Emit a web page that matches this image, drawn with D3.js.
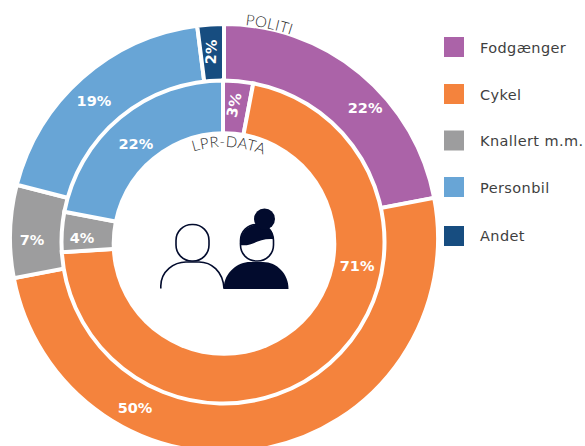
<!DOCTYPE html>
<html>
<head>
<meta charset="utf-8">
<script src="https://cdn.jsdelivr.net/npm/d3@7"></script>
<style>
  html, body { margin: 0; padding: 0; background: #fff; }
  svg { display: block; }
</style>
</head>
<body>
<svg id="chart" width="585" height="446"></svg>
<script>
var categories = ['Fodgænger', 'Cykel', 'Knallert m.m.', 'Personbil', 'Andet'];
var colors = ['#ab63a8', '#f4833d', '#9d9d9e', '#68a5d6', '#174d80'];
var politi = [22, 50, 7, 19, 2];
var lpr = [3, 71, 4, 22, 0];

var svg = d3.select('#chart');
var cx = 224, cy = 238;

var pie = d3.pie().sort(null).value(function (d) { return d; });

// rings are drawn as stacked discs, the source's circles are not quite concentric
function disc(values, x, y, r) {
    var arc = d3.arc().innerRadius(0).outerRadius(r);
    var g = svg.append('g').attr('transform', 'translate(' + x + ',' + y + ')');
    g.selectAll('path')
        .data(pie(values).filter(function (d) { return d.value > 0; }))
        .enter()
        .append('path')
        .attr('d', arc)
        .attr('fill', function (d) { return colors[d.index]; })
        .attr('stroke', '#fff')
        .attr('stroke-width', 4);
}

disc(politi, cx, cy, 214);
disc(lpr, 223, 242, 161.5);
svg.append('circle').attr('cx', 224).attr('cy', 243.5).attr('r', 112.3).attr('fill', '#fff');

// value labels: angle on the circle, distance from centre, rotation
function labels(values, place) {
    svg.append('g')
        .attr('transform', 'translate(' + cx + ',' + cy + ')')
        .selectAll('text')
        .data(values.filter(function (d) { return d > 0; }))
        .enter()
        .append('text')
        .attr('transform', function (d, i) {
            var p = d3.pointRadial(place[i][0] * Math.PI / 180, place[i][1]);
            return 'translate(' + p[0] + ',' + p[1] + ') rotate(' + place[i][2] + ')';
        })
        .attr('text-anchor', 'middle')
        .attr('dy', '0.36em')
        .style('font-family', '"DejaVu Sans"')
        .style('font-weight', 'bold')
        .style('font-size', '14.5px')
        .style('fill', '#fff')
        .text(function (d) { return d + '%'; });
}

labels(politi, [[47.3, 192, 0], [207.6, 192, 0], [269.6, 192, 0], [316.5, 189, 0], [356, 186.5, -88]]);
labels(lpr, [[4.3, 133.4, -77], [101.8, 136, 0], [270, 142, 0], [316.9, 129, 0]]);

// curved ring names
function curved(id, label, x, y, r, midDeg, spreadDeg) {
    var a0 = (midDeg - spreadDeg - 90) * Math.PI / 180;
    var a1 = (midDeg + spreadDeg - 90) * Math.PI / 180;
    var p = d3.path();
    p.arc(x, y, r, a0, a1);
    svg.append('path').attr('id', id).attr('d', p.toString()).attr('fill', 'none');
    svg.append('text')
        .style('font-family', 'Lato')
        .style('font-weight', 300)
        .style('font-size', '15px')
        .style('letter-spacing', '0.4px')
        .style('fill', '#2b2b2b')
        .append('textPath')
        .attr('href', '#' + id)
        .attr('startOffset', '50%')
        .attr('text-anchor', 'middle')
        .text(label);
}
curved('politiPath', 'POLITI', cx, cy, 214, 12, 25);
curved('lprPath', 'LPR-DATA', cx, cy + 12, 103, 2.6, 40);

// legend
var legend = svg.selectAll('.legend')
    .data(categories)
    .enter()
    .append('g')
    .attr('class', 'legend')
    .attr('transform', function (d, i) {
        return 'translate(444,' + [37, 84, 130.5, 177, 226][i] + ')';
    });
legend.append('rect')
    .attr('width', 20)
    .attr('height', 20)
    .attr('fill', function (d, i) { return colors[i]; });
legend.append('text')
    .attr('x', 36)
    .attr('y', function (d, i) { return i === 4 ? 14.5 : 15.5; })
    .style('font-family', '"DejaVu Sans"')
    .style('font-size', '14.5px')
    .style('letter-spacing', '0.4px')
    .style('fill', '#3f3f3f')
    .text(function (d) { return d; });

// people icons
var ink = '#020b2d';
var icons = svg.append('g');
icons.append('rect').attr('x', 176).attr('y', 224.5).attr('width', 33).attr('height', 36.5).attr('rx', 16)
    .attr('fill', '#fff').attr('stroke', ink).attr('stroke-width', 1.6);
icons.append('path').attr('d', 'M160.8,288.5 V286 C161,271 174,262 186,262 H199 C211,262 223,271 224,288.5')
    .attr('fill', 'none').attr('stroke', ink).attr('stroke-width', 1.6);
icons.append('path').attr('d', 'M223.5,289 C224,272 238,262 250,262 H263 C277,262 288.5,274 288.5,289 Z').attr('fill', ink);
icons.append('rect').attr('x', 240.5).attr('y', 224.5).attr('width', 33).attr('height', 36.5).attr('rx', 16)
    .attr('fill', '#fff').attr('stroke', ink).attr('stroke-width', 1.6);
icons.append('path').attr('d', 'M240,245 C252,247 258,238 273,239 C274,232 270,226 262,225 C250,222 239,232 240,245 Z').attr('fill', ink);
icons.append('circle').attr('cx', 264.5).attr('cy', 219).attr('r', 10.5).attr('fill', ink);
</script>
</body>
</html>
